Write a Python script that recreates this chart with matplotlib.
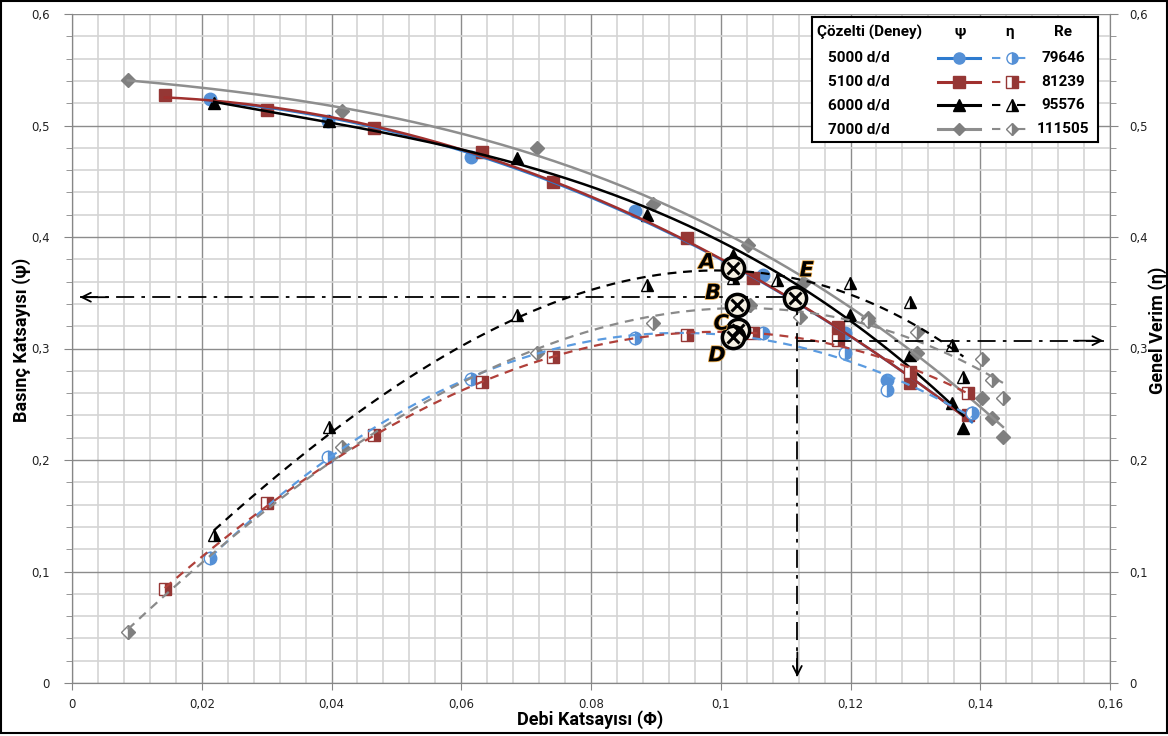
import matplotlib
matplotlib.use("Agg")
import matplotlib.pyplot as plt
import matplotlib.patheffects as pe
from matplotlib.patches import Rectangle
import numpy as np

# ── data ─────────────────────────────────────────────────────────────────────
# 5000 d/d  (Re 79646)
phi_5000 = [0.0213, 0.0395, 0.0615, 0.0868, 0.1065, 0.1192, 0.1257, 0.1387]
psi_5000 = [0.524, 0.504, 0.472, 0.423, 0.366, 0.314, 0.272, 0.242]
eta_5000 = [0.112, 0.203, 0.273, 0.309, 0.314, 0.296, 0.263, 0.242]

# 5100 d/d  (Re 81239)
phi_5100 = [0.0143, 0.0301, 0.0466, 0.0632, 0.0742, 0.0948, 0.1049, 0.1181, 0.1292, 0.1381]
psi_5100 = [0.527, 0.514, 0.498, 0.476, 0.449, 0.399, 0.363, 0.319, 0.269, 0.240]
eta_5100 = [0.084, 0.161, 0.222, 0.270, 0.292, 0.312, 0.314, 0.308, 0.279, 0.260]

# 6000 d/d  (Re 95576)
phi_psi_6000 = [0.0219, 0.0396, 0.0686, 0.0887, 0.1019, 0.1199, 0.1292, 0.1357, 0.1374]
psi_6000 = [0.520, 0.504, 0.471, 0.420, 0.384, 0.330, 0.294, 0.251, 0.229]
phi_eta_6000 = [0.0219, 0.0396, 0.0686, 0.0887, 0.1019, 0.1087, 0.1199, 0.1292, 0.1357, 0.1374]
eta_6000 = [0.133, 0.230, 0.330, 0.357, 0.363, 0.361, 0.359, 0.342, 0.303, 0.274]

# 7000 d/d  (Re 111505)
phi_psi_7000 = [0.0086, 0.0416, 0.0717, 0.0896, 0.1042, 0.1127, 0.1227, 0.1303, 0.1403, 0.1418, 0.1435]
psi_7000 = [0.541, 0.513, 0.480, 0.430, 0.393, 0.359, 0.327, 0.296, 0.256, 0.238, 0.221]
phi_eta_7000 = [0.0086, 0.0416, 0.0717, 0.0896, 0.1045, 0.1122, 0.1227, 0.1303, 0.1403, 0.1418, 0.1435]
eta_7000 = [0.046, 0.212, 0.296, 0.323, 0.339, 0.328, 0.325, 0.315, 0.291, 0.272, 0.256]

fluid_labels = ["5000 d/d", "5100 d/d", "6000 d/d", "7000 d/d"]
re_values = ["79646", "81239", "95576", "111505"]

# marked operating points A..E
point_labels = ["A", "B", "C", "D", "E"]
point_phi = [0.1019, 0.1025, 0.1027, 0.1019, 0.1114]
point_val = [0.372, 0.339, 0.317, 0.310, 0.345]

# reference (dash-dot) lines
ref_phi = 0.1118
ref_psi = 0.346
ref_eta = 0.307

x_tick_vals = [0, 0.02, 0.04, 0.06, 0.08, 0.10, 0.12, 0.14, 0.16]
x_tick_labels = ["0", "0,02", "0,04", "0,06", "0.08", "0,1", "0,12", "0,14", "0,16"]
y_tick_vals = [0, 0.1, 0.2, 0.3, 0.4, 0.5, 0.6]
y_tick_labels = ["0", "0,1", "0,2", "0,3", "0,4", "0,5", "0,6"]

# ── style ─────────────────────────────────────────────────────────────────────
BLUE, BLUE_LINE, BLUE_DASH = "#5590D6", "#2E7BCF", "#5B9BE0"
RED, RED_LINE, RED_DASH = "#953735", "#A0302E", "#B0403A"
BLACK = "#000000"
GRAY, GRAY_LINE, GRAY_DASH = "#7F7F7F", "#8E8E8E", "#8A8A8A"
LABEL_FONT = ["Roboto", "DejaVu Sans"]

W, H = 1168, 736
fig = plt.figure(figsize=(W / 100, H / 100), dpi=100)
ax = fig.add_axes([72 / W, 1 - 683 / H, (1110 - 72) / W, (683 - 14) / H])
ax2 = ax.twinx()

for a in (ax, ax2):
    a.set_xlim(0, 0.16)
    a.set_ylim(0, 0.6)
    for s in ("left", "right", "bottom"):
        a.spines[s].set_color("#868686")
    a.spines["top"].set_visible(False)

ax.set_xticks(x_tick_vals)
ax.set_xticklabels(x_tick_labels)
ax.set_xticks(np.arange(0, 0.1601, 0.004), minor=True)
ax.set_yticks(y_tick_vals)
ax.set_yticklabels(y_tick_labels)
ax.set_yticks(np.arange(0, 0.601, 0.02), minor=True)
ax2.set_yticks(y_tick_vals)
ax2.set_yticklabels(y_tick_labels)
ax2.set_yticks(np.arange(0, 0.601, 0.02), minor=True)

ax.grid(which="minor", color="#d4d4d4", lw=1.2)
ax.grid(which="major", color="#8c8c8c", lw=1.0)
ax.set_axisbelow(True)
ax.tick_params(axis="x", which="minor", length=0)
ax.tick_params(which="both", color="#868686", labelsize=8.5, labelcolor="#222222")
ax.tick_params(axis="y", which="minor", length=4)
ax.tick_params(axis="x", which="major", length=5, pad=6)
ax.tick_params(axis="y", which="major", length=6, pad=10)
ax2.tick_params(which="both", color="#868686", labelsize=8.5, labelcolor="#222222")
ax2.tick_params(axis="y", which="minor", length=4)
ax2.tick_params(axis="y", which="major", length=6, pad=8)


def draw_series(phi_psi, psi, phi_eta, eta, mcolor, lcolor, dcolor, marker, ms):
    # trendlines as in the spreadsheet: polynomial fits through the points
    xs = np.linspace(min(phi_psi), max(phi_psi), 200)
    p = np.polyfit(phi_psi, psi, 3)
    ax.plot(xs, np.polyval(p, xs), color=lcolor, lw=1.8, zorder=4)
    ax.plot(phi_psi, psi, ls="none", marker=marker, ms=ms, mfc=mcolor, mec=mcolor, zorder=3)

    xe = np.linspace(min(phi_eta), max(phi_eta), 200)
    q = np.polyfit(phi_eta, eta, 3)
    ax2.plot(xe, np.polyval(q, xe), color=dcolor, lw=1.6, ls=(0, (4, 3)), zorder=4)
    ax2.plot(phi_eta, eta, ls="none", marker=marker, ms=ms, mfc=mcolor, mec=mcolor,
             fillstyle="right", markerfacecoloralt="white", mew=1.0, zorder=3)


draw_series(phi_5000, psi_5000, phi_5000, eta_5000, BLUE, BLUE_LINE, BLUE_DASH, "o", 9)
draw_series(phi_5100, psi_5100, phi_5100, eta_5100, RED, RED_LINE, RED_DASH, "s", 9)
draw_series(phi_psi_6000, psi_6000, phi_eta_6000, eta_6000, BLACK, BLACK, BLACK, "^", 9)
draw_series(phi_psi_7000, psi_7000, phi_eta_7000, eta_7000, GRAY, GRAY_LINE, GRAY_DASH, "D", 7.5)

# ── dash-dot reference lines with open arrow heads ───────────────────────────
dd = dict(color="black", lw=1.3, dashes=(10, 4, 2, 4), zorder=5)
ax2.plot([0.0012, ref_phi], [ref_psi, ref_psi], **dd)
ax2.plot([ref_phi, 0.1590], [ref_eta, ref_eta], **dd)
ax2.plot([ref_phi, ref_phi], [ref_psi, 0.004], **dd)
head = dict(arrowstyle="->", lw=1.3, color="black", mutation_scale=16)
ax2.annotate("", xy=(0.0008, ref_psi), xytext=(0.006, ref_psi), arrowprops=head, zorder=6)
ax2.annotate("", xy=(0.1594, ref_eta), xytext=(0.154, ref_eta), arrowprops=head, zorder=6)
ax2.annotate("", xy=(ref_phi, 0.003), xytext=(ref_phi, 0.03), arrowprops=head, zorder=6)

# ── marked points A..E ───────────────────────────────────────────────────────
offsets = {"A": (-26, 6), "B": (-24, 12), "C": (-17, 6), "D": (-16, -18), "E": (12, 28)}
for lab, x, y in zip(point_labels, point_phi, point_val):
    ax2.plot(x, y, marker="o", ms=16, mfc="#f6f1e4", mec="black", mew=2.5, zorder=7)
    ax2.plot(x, y, marker="x", ms=8.5, mec="black", mew=2.2, zorder=8)
    ax2.annotate(lab, (x, y), xytext=offsets[lab], textcoords="offset pixels",
                 ha="center", va="center", fontsize=15, fontstyle="italic",
                 fontweight="bold", color="black", zorder=9,
                 path_effects=[pe.withStroke(linewidth=1.2, foreground="#e9a94a")])

# ── axis titles ──────────────────────────────────────────────────────────────
fig.text(22 / W, 1 - 340 / H, "Basınç Katsayısı (ψ)", rotation=90, ha="center",
         va="center", fontsize=13, fontweight="bold", family=LABEL_FONT)
fig.text(1158 / W, 1 - 330 / H, "Genel Verim (η)", rotation=90, ha="center",
         va="center", fontsize=13, fontweight="bold", family=LABEL_FONT)
fig.text(590 / W, 1 - 720 / H, "Debi Katsayısı (Φ)", ha="center", va="center",
         fontsize=13, fontweight="bold", family=LABEL_FONT)

# ── legend table ─────────────────────────────────────────────────────────────
lg = fig.add_axes([812 / W, 1 - 142 / H, 286 / W, 125 / H])
lg.set_xlim(0, 286)
lg.set_ylim(125, 0)
lg.set_xticks([])
lg.set_yticks([])
lg.set_zorder(10)
for s in lg.spines.values():
    s.set_color("black")
    s.set_linewidth(1.5)

hdr = dict(fontsize=11, fontweight="bold", va="center", ha="center", family=LABEL_FONT)
lg.text(58, 15, "Çözelti (Deney)", **hdr)
lg.text(148, 15, "ψ", **hdr)
lg.text(198, 15, "η", **hdr)
lg.text(251, 15, "Re", **hdr)

styles = [(BLUE, BLUE_LINE, BLUE_DASH, "o", 8), (RED, RED_LINE, RED_DASH, "s", 8),
          (BLACK, BLACK, BLACK, "^", 8), (GRAY, GRAY_LINE, GRAY_DASH, "D", 6.5)]
row_y = [41, 65, 88, 112]
for yy, name, re_, (mc, lc, dc, mk, ms) in zip(row_y, fluid_labels, re_values, styles):
    lg.text(47, yy, name, **hdr)
    lg.text(251, yy, re_, **hdr)
    lg.plot([126, 168], [yy, yy], color=lc, lw=2.2)
    lg.plot(147, yy, marker=mk, ms=ms, mfc=mc, mec=mc)
    lg.plot([180, 219], [yy, yy], color=dc, lw=1.5, ls=(0, (4, 8)))
    lg.plot(200, yy, marker=mk, ms=ms, mfc=mc, mec=mc, fillstyle="right",
            markerfacecoloralt="white", mew=1.0)

# outer frame
fig.add_artist(Rectangle((0.001, 0.004), 0.998, 0.995, transform=fig.transFigure,
                         fill=False, edgecolor="black", lw=1.5))

fig.savefig("out.png", dpi=100)
